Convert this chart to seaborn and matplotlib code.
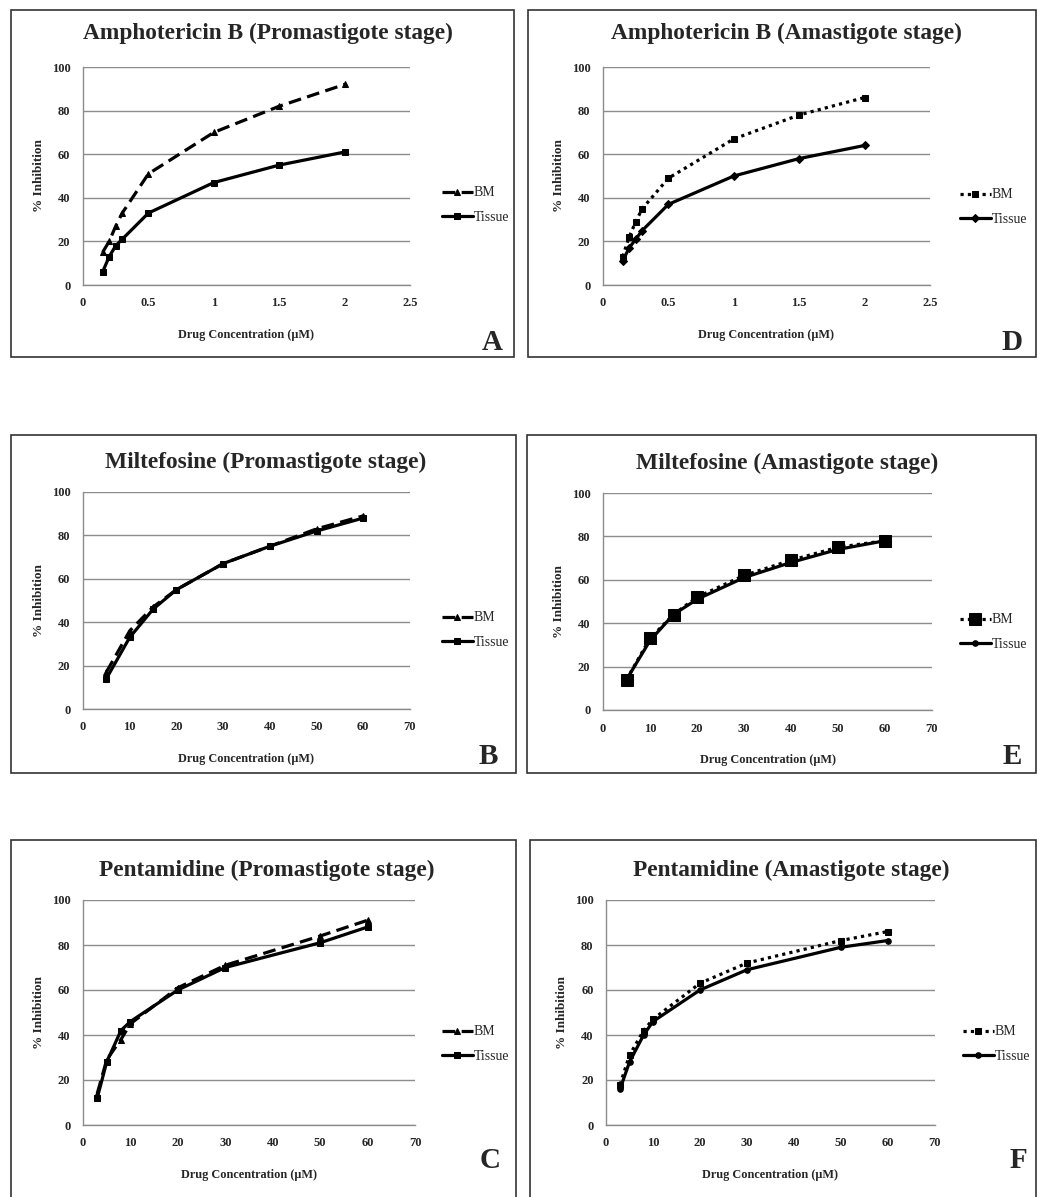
import matplotlib
matplotlib.use("Agg")
import matplotlib.pyplot as plt
import seaborn as sns
from matplotlib.patches import Rectangle

# ----------------------
# Data
# ----------------------
amb_conc = [0.15, 0.2, 0.25, 0.3, 0.5, 1, 1.5, 2]
amb_pro_bm = [15, 20, 27, 33, 51, 70, 82, 92]
amb_pro_tissue = [6, 13, 18, 21, 33, 47, 55, 61]
amb_ama_bm = [13, 22, 29, 35, 49, 67, 78, 86]
amb_ama_tissue = [11, 17, 21, 25, 37, 50, 58, 64]

mil_conc = [5, 10, 15, 20, 30, 40, 50, 60]
mil_pro_bm = [17, 36, 47, 55, 67, 75, 83, 89]
mil_pro_tissue = [14, 33, 46, 55, 67, 75, 82, 88]
mil_ama_bm = [14, 33, 44, 52, 62, 69, 75, 78]
mil_ama_tissue = [14, 32, 44, 51, 61, 68, 74, 78]

pen_conc = [3, 5, 8, 10, 20, 30, 50, 60]
pen_pro_bm = [14, 29, 38, 45, 61, 71, 84, 91]
pen_pro_tissue = [12, 28, 42, 46, 60, 70, 81, 88]
pen_ama_bm = [18, 31, 42, 47, 63, 72, 82, 86]
pen_ama_tissue = [16, 28, 40, 46, 60, 69, 79, 82]

series_names = ["BM", "Tissue"]
y_ticks = [0, 20, 40, 60, 80, 100]
amb_ticks = [0, 0.5, 1, 1.5, 2, 2.5]
amb_ticklabels = ["0", "0.5", "1", "1.5", "2", "2.5"]
conc_ticks = [0, 10, 20, 30, 40, 50, 60, 70]

# ----------------------
# Figure setup
# ----------------------
sns.set_style("white")
plt.rcParams["font.family"] = ["Liberation Serif", "DejaVu Serif"]

W, H = 1037, 1197
fig = plt.figure(figsize=(W / 100, H / 100), dpi=100)


def fx(px):
    return px / W


def fy(py):
    return 1 - py / H


dashed = (0, (4, 2))
dotted = (0, (1, 1.3))

# panel layout in pixels: box, axes rect, title pos, letter pos, legend pos
panels = [
    dict(box=(11, 10, 514, 357), ax=(83, 67, 410, 285), title=(268, 33), letter=(492, 342),
         name="Amphotericin B (Promastigote stage)", tag="A",
         x=amb_conc, bm=amb_pro_bm, tissue=amb_pro_tissue, xlim=2.5,
         xticks=amb_ticks, xticklabels=amb_ticklabels,
         bm_style=dict(linestyle=dashed, marker="^", markersize=5),
         ti_style=dict(linestyle="-", marker="s", markersize=4.5),
         leg=(442, 193)),
    dict(box=(528, 10, 1036, 357), ax=(603, 67, 930, 285), title=(786, 33), letter=(1012, 342),
         name="Amphotericin B (Amastigote stage)", tag="D",
         x=amb_conc, bm=amb_ama_bm, tissue=amb_ama_tissue, xlim=2.5,
         xticks=amb_ticks, xticklabels=amb_ticklabels,
         bm_style=dict(linestyle=dotted, marker="s", markersize=5),
         ti_style=dict(linestyle="-", marker="D", markersize=4),
         leg=(960, 195)),
    dict(box=(11, 435, 516, 773), ax=(83, 492, 410, 709), title=(266, 462), letter=(488, 757),
         name="Miltefosine (Promastigote stage)", tag="B",
         x=mil_conc, bm=mil_pro_bm, tissue=mil_pro_tissue, xlim=70,
         xticks=conc_ticks, xticklabels=[str(t) for t in conc_ticks],
         bm_style=dict(linestyle=dashed, marker="^", markersize=5),
         ti_style=dict(linestyle="-", marker="s", markersize=4.5),
         leg=(442, 618)),
    dict(box=(527, 435, 1036, 773), ax=(603, 493, 932, 710), title=(787, 463), letter=(1012, 757),
         name="Miltefosine (Amastigote stage)", tag="E",
         x=mil_conc, bm=mil_ama_bm, tissue=mil_ama_tissue, xlim=70,
         xticks=conc_ticks, xticklabels=[str(t) for t in conc_ticks],
         bm_style=dict(linestyle=dotted, marker="s", markersize=8.5),
         ti_style=dict(linestyle="-", marker="o", markersize=4),
         leg=(960, 620)),
    dict(box=(11, 840, 516, 1200), ax=(83, 900, 415, 1125), title=(267, 870), letter=(490, 1161),
         name="Pentamidine (Promastigote stage)", tag="C",
         x=pen_conc, bm=pen_pro_bm, tissue=pen_pro_tissue, xlim=70,
         xticks=conc_ticks, xticklabels=[str(t) for t in conc_ticks],
         bm_style=dict(linestyle=dashed, marker="^", markersize=5),
         ti_style=dict(linestyle="-", marker="s", markersize=4.5),
         leg=(442, 1032)),
    dict(box=(530, 840, 1036, 1200), ax=(606, 900, 935, 1125), title=(791, 870), letter=(1018, 1161),
         name="Pentamidine (Amastigote stage)", tag="F",
         x=pen_conc, bm=pen_ama_bm, tissue=pen_ama_tissue, xlim=70,
         xticks=conc_ticks, xticklabels=[str(t) for t in conc_ticks],
         bm_style=dict(linestyle=dotted, marker="s", markersize=5),
         ti_style=dict(linestyle="-", marker="o", markersize=4),
         leg=(963, 1032)),
]

for p in panels:
    # outer box around each panel
    bl, bt, br, bb = p["box"]
    fig.add_artist(Rectangle((fx(bl), fy(bb)), fx(br - bl), (bb - bt) / H,
                             transform=fig.transFigure, fill=False,
                             edgecolor="#333333", linewidth=1.2))

    l, t, r, b = p["ax"]
    ax = fig.add_axes([fx(l), fy(b), fx(r - l), (b - t) / H])

    sns.lineplot(x=p["x"], y=p["bm"], ax=ax, color="black", linewidth=2.3,
                 markeredgecolor="black", label=series_names[0], **p["bm_style"])
    sns.lineplot(x=p["x"], y=p["tissue"], ax=ax, color="black", linewidth=2.3,
                 markeredgecolor="black", label=series_names[1], **p["ti_style"])

    ax.set_xlim(0, p["xlim"])
    ax.set_ylim(0, 100)
    ax.set_yticks(y_ticks)
    ax.set_xticks(p["xticks"])
    ax.set_xticklabels(p["xticklabels"])
    ax.yaxis.grid(True, color="#8c8c8c", linewidth=1.0)
    ax.set_axisbelow(True)
    for side in ["top", "right"]:
        ax.spines[side].set_visible(False)
    for side in ["left", "bottom"]:
        ax.spines[side].set_color("#8c8c8c")
        ax.spines[side].set_linewidth(1.0)
    ax.tick_params(axis="both", labelsize=9, length=3, color="#8c8c8c", pad=6)
    for lab in ax.get_xticklabels() + ax.get_yticklabels():
        lab.set_fontweight("bold")

    ax.set_xlabel("Drug Concentration (\u03bcM)", fontsize=8.8, fontweight="bold", labelpad=14)
    ax.set_ylabel("% Inhibition", fontsize=9.5, fontweight="bold", labelpad=5)

    lx, ly = p["leg"]
    ax.legend(loc="center left",
              bbox_to_anchor=((lx - l) / (r - l), (b - ly - 12) / (b - t)),
              frameon=False, fontsize=10, handlelength=2.2, handletextpad=0.1,
              labelspacing=0.8, borderaxespad=0, borderpad=0)

    fig.text(fx(p["title"][0]), fy(p["title"][1]), p["name"], ha="center", va="center",
             fontsize=16.8, fontweight="bold")
    fig.text(fx(p["letter"][0]), fy(p["letter"][1]), p["tag"], ha="center", va="center",
             fontsize=21, fontweight="bold")

fig.savefig("out.png", dpi=100, facecolor="white")
